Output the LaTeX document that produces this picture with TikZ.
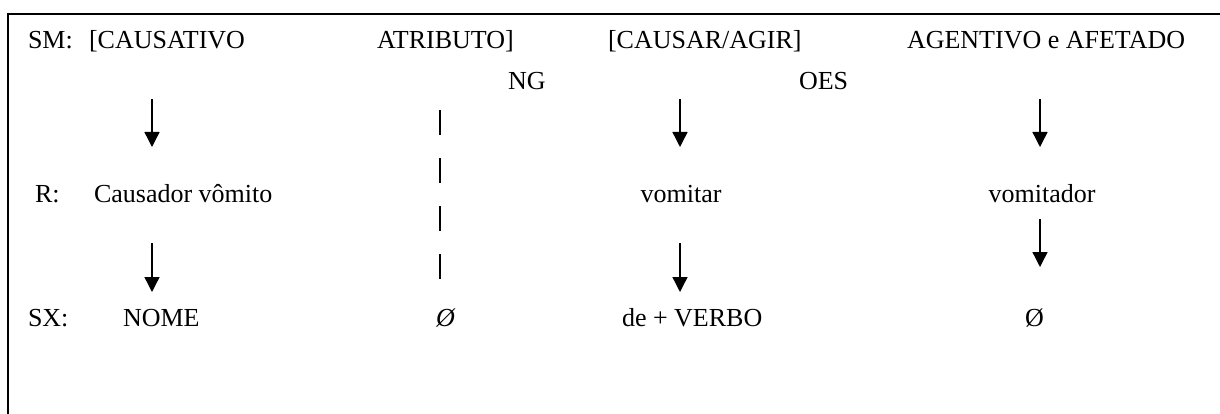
\documentclass[tikz,border=0pt]{standalone}
\usepackage{fontspec}
\setmainfont{Liberation Serif}
\usetikzlibrary{arrows.meta}
\begin{document}
\begin{tikzpicture}[x=1pt,y=-1pt,
  lbl/.style={inner sep=0pt,outer sep=0pt,anchor=base west,font=\fontsize{26}{30}\selectfont},
  lblc/.style={inner sep=0pt,outer sep=0pt,anchor=base,font=\fontsize{26}{30}\selectfont},
  downarrow/.style={line width=1.4pt,-{Triangle[width=15pt,length=15pt]}},
  dashline/.style={line width=1.6pt,dash pattern=on 25pt off 23pt},
  frame/.style={line width=1.3pt}]
\useasboundingbox (0,0) rectangle (1220,414);
% frame (open to right and bottom)
\coordinate (fbl) at (8,414);
\coordinate (ftl) at (8,14);
\coordinate (ftr) at (1220,14);
\draw[frame] (fbl) -- (ftl) -- (ftr);
% row SM
\node[lbl] (sm) at (28,49) {SM:};
\node[lbl] (caus) at (89,49) {[CAUSATIVO};
\node[lbl] (atr) at (377,49) {ATRIBUTO]};
\node[lbl] (ng) at (508,90) {NG};
\node[lbl] (causar) at (608,49) {[CAUSAR/AGIR]};
\node[lbl] (oes) at (799,90) {OES};
\node[lbl] (agent) at (907,49) {AGENTIVO e AFETADO};
% row R
\node[lbl] (r) at (35,202) {R:};
\node[lbl] (causador) at (94,202) {Causador vômito};
\node[lblc] (vomitar) at (681,202) {vomitar};
\node[lblc] (vomitador) at (1042,202) {vomitador};
% row SX
\node[lbl] (sx) at (28,326) {SX:};
\node[lbl] (nome) at (123,326) {NOME};
\node[lbl] (zero1) at (436,326) {\itshape Ø};
\node[lbl] (deverbo) at (622,326) {de + VERBO};
\node[lbl] (zero2) at (1025,326) {Ø};
% arrow coordinates
\coordinate (a1s) at (152,99);  \coordinate (a1e) at (152,147);
\coordinate (a2s) at (152,243); \coordinate (a2e) at (152,292);
\coordinate (b1s) at (680,99);  \coordinate (b1e) at (680,147);
\coordinate (b2s) at (680,243); \coordinate (b2e) at (680,292);
\coordinate (c1s) at (1040,99); \coordinate (c1e) at (1040,147);
\coordinate (c2s) at (1040,219); \coordinate (c2e) at (1040,267);
\coordinate (ds) at (440,110);  \coordinate (de) at (440,279);
\draw[downarrow] (a1s) -- (a1e);
\draw[downarrow] (a2s) -- (a2e);
\draw[downarrow] (b1s) -- (b1e);
\draw[downarrow] (b2s) -- (b2e);
\draw[downarrow] (c1s) -- (c1e);
\draw[downarrow] (c2s) -- (c2e);
\draw[dashline] (ds) -- (de);
\end{tikzpicture}
\end{document}
